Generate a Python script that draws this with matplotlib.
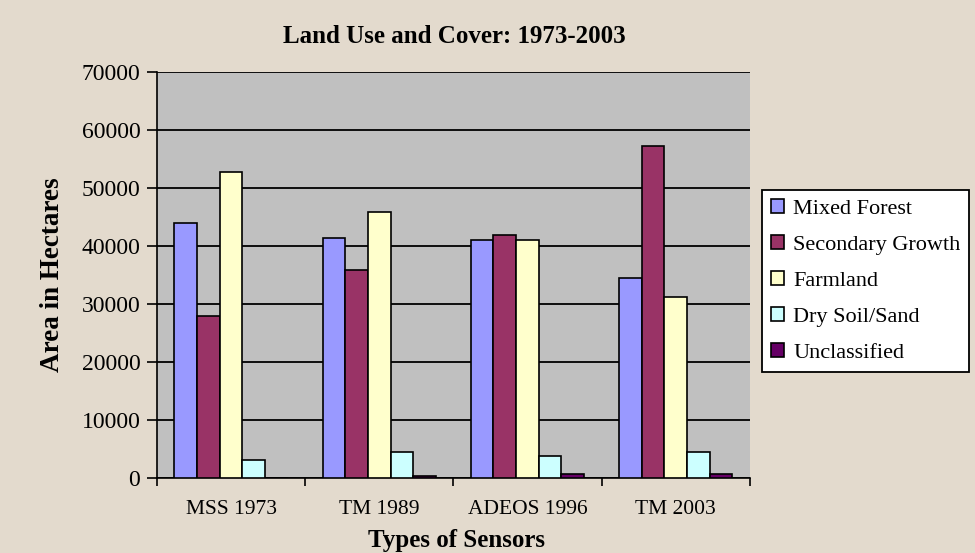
import numpy as np
import matplotlib.pyplot as plt

sensors = ["MSS 1973", "TM 1989", "ADEOS 1996", "TM 2003"]
classes = ["Mixed Forest", "Secondary Growth", "Farmland", "Dry Soil/Sand", "Unclassified"]
mixed_forest = [43900, 41300, 41050, 34500]
secondary_growth = [27900, 35800, 41800, 57300]
farmland = [52700, 45800, 41050, 31100]
dry_soil = [3150, 4500, 3800, 4500]
unclassified = [0, 350, 700, 700]
colors = ["#9999ff", "#993366", "#ffffcc", "#ccffff", "#660066"]

plt.rcParams['font.family'] = ['Liberation Serif', 'DejaVu Serif']

fig = plt.figure(figsize=(9.75, 5.53), dpi=100)
fig.patch.set_facecolor("#e3dacd")
ax = fig.add_axes([0.161, 0.136, 0.608, 0.734])
ax.set_facecolor("#c0c0c0")

x = np.arange(len(sensors))
w = 0.153
series = [mixed_forest, secondary_growth, farmland, dry_soil, unclassified]
for i, vals in enumerate(series):
    ax.bar(x + (i - 2) * w, vals, w, color=colors[i], edgecolor="black",
           linewidth=1.2, label=classes[i], zorder=3)

ax.set_xlim(-0.5, 3.5)
ax.set_ylim(0, 70000)
ax.set_yticks(range(0, 70001, 10000))
ax.set_xticks(x)
ax.set_xticklabels(sensors, fontsize=15.5)
ax.tick_params(axis='y', labelsize=17, direction='out', length=7, width=1.2, pad=5)
ax.set_xticks(np.arange(-0.5, 3.6, 1), minor=True)
ax.tick_params(axis='x', which='major', length=0, pad=16)
ax.tick_params(axis='x', which='minor', length=6, width=1.2)
ax.grid(axis='y', color='black', linewidth=1.3, zorder=1)
for s in ['top', 'right']:
    ax.spines[s].set_visible(False)
ax.spines['left'].set_linewidth(1.2)
ax.spines['bottom'].set_linewidth(1.2)

fig.text(454 / 975, 1 - 43 / 553, "Land Use and Cover: 1973-2003", fontsize=18,
         fontweight='bold', ha='center', va='baseline')
ax.set_xlabel("Types of Sensors", fontsize=18, fontweight='bold')
ax.xaxis.set_label_coords(0.505, -0.155)
ax.xaxis.label.set_va('center')
ax.set_ylabel("Area in Hectares", fontsize=19.5, fontweight='bold')
ax.yaxis.set_label_coords(-0.177, 0.5)
ax.yaxis.label.set_va('center')

leg = fig.legend(loc='upper left', bbox_to_anchor=(762 / 975, 1 - 190 / 553), fontsize=16,
                 frameon=True, fancybox=False, edgecolor='black', handlelength=0.6,
                 handleheight=0.6, handletextpad=0.4, labelspacing=0.73,
                 borderpad=0.4, borderaxespad=0)
leg.get_frame().set_linewidth(1.3)
leg.get_frame().set_facecolor('white')
leg.get_frame().set_alpha(1)

fig.savefig("out.png", dpi=100, facecolor=fig.get_facecolor())
